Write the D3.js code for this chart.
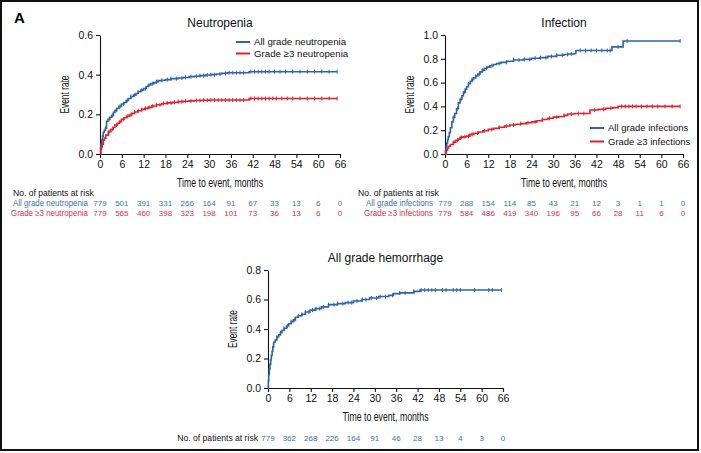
<!DOCTYPE html>
<html><head><meta charset="utf-8">
<script src="https://cdn.jsdelivr.net/npm/d3@7"></script>
<style>
body{margin:0;background:#fff;}
svg text{font-family:"Liberation Sans",Arial,sans-serif;}
</style></head>
<body>
<svg id="c" width="701" height="453"></svg>
<script>
// ---------- DATA ----------
const xTicks = [0,6,12,18,24,30,36,42,48,54,60,66];

// Neutropenia
const neutAllT = [0,0.15,0.3,0.5,0.7,0.9,1.2,1.5,1.8,2.2,2.7,3.2,3.7,4.1,4.6,5.2,5.9,6.6,7.2,7.8,8.5,9.2,9.9,10.5,11.2,12,12.7,13.3,14,14.8,15.5,16,17,18,19.5,21.5,23,24.5,26,27.5,29,30.5,32,33.5,35,41,65.2];
const neutAllV = [0,0.03,0.05,0.07,0.09,0.11,0.12,0.13,0.165,0.175,0.185,0.195,0.21,0.22,0.23,0.24,0.252,0.26,0.27,0.28,0.29,0.297,0.305,0.314,0.322,0.33,0.34,0.348,0.355,0.36,0.365,0.37,0.372,0.375,0.38,0.383,0.386,0.39,0.392,0.395,0.398,0.40,0.403,0.407,0.41,0.415,0.415];
const neutAllCens = [1.5,2.5,3.5,4.5,5.5,6.5,7.5,8.5,9.5,10.5,11.5,12.5,13.5,14.5,15.5,17,18.5,19.5,21,22.5,23.5,25,26.5,27.5,28.5,29.5,30.5,31.5,33,34.5,35.5,36.5,37.5,38.5,39.5,41.5,42.5,43.5,44.5,45.5,46.5,48,49.5,51,53,55,57,59,61,63,65.2];
const neutG3T = [0,0.2,0.4,0.6,0.9,1.2,1.6,2.3,3,3.6,4.1,4.8,5.3,5.9,6.6,7.3,8,8.7,9.5,10.4,11.4,12.3,13.2,14.2,15.5,17,18.5,20,21.5,23,24.5,26,28,30,41,65.2];
const neutG3V = [0,0.02,0.035,0.05,0.07,0.08,0.095,0.113,0.125,0.135,0.146,0.155,0.163,0.175,0.183,0.19,0.197,0.205,0.212,0.218,0.225,0.23,0.235,0.242,0.248,0.255,0.258,0.261,0.264,0.266,0.268,0.27,0.271,0.272,0.28,0.28];
const neutG3Cens = [2.5,3.5,4.5,5.5,6.5,7.5,8.5,9.5,10.5,11.5,12.5,13.5,14.5,15.5,16.5,17.5,18.5,19.5,20.5,21.5,22.5,23.5,25,26.5,27.5,28.5,29.5,30.5,31.5,32.5,33.5,34.5,35.5,36.5,37.5,38.5,39.5,41.5,42.5,43.5,44.5,45.5,46.5,47.5,48.5,50,51.5,53,55,57,59,61,63,65.2];
const neutRiskAll = [779,501,391,331,266,164,91,67,33,13,6,0];
const neutRiskG3 = [779,565,460,398,323,198,101,73,36,13,6,0];

// Infection
const infAllT = [0,0.15,0.3,0.5,0.7,0.9,1.2,1.5,1.9,2.3,2.7,3.2,3.7,4.2,4.7,5.1,5.6,6,6.5,7,7.5,7.9,8.5,9.1,9.7,10.3,11,11.6,12.5,13.4,14.3,15.5,17.1,19,21.7,24,26.3,28.5,30.9,33,34.1,35.8,36.3,46.3,49.4,65.2];
const infAllV = [0,0.03,0.06,0.09,0.12,0.146,0.18,0.22,0.27,0.31,0.34,0.38,0.43,0.46,0.49,0.52,0.545,0.565,0.59,0.61,0.625,0.64,0.655,0.672,0.69,0.705,0.72,0.73,0.742,0.752,0.76,0.77,0.78,0.79,0.795,0.805,0.81,0.82,0.83,0.836,0.84,0.845,0.87,0.90,0.95,0.95];
const infAllCens = [2.5,3.5,4.5,5.5,6.5,7.5,8.5,9.5,10.5,11.5,13,15,17,19,20.5,22,23.5,25,26.5,28,29.5,31,32.5,34,35,37.5,39,40.5,42,43.5,45,45.8,48,50.5,65.2];
const infG3T = [0,0.2,0.4,0.7,1,1.5,2.3,3,3.6,4.2,5,6,6.9,8,9.2,10.5,12,13.5,15,16.5,18,19.5,21,22.5,24,25.5,27,28.5,30,31.5,33,34,36,40.2,42.5,44.5,46.5,48,65.2];
const infG3V = [0,0.02,0.035,0.05,0.065,0.08,0.10,0.115,0.125,0.14,0.145,0.15,0.165,0.175,0.185,0.195,0.207,0.215,0.225,0.235,0.244,0.25,0.255,0.262,0.27,0.28,0.29,0.30,0.31,0.315,0.325,0.336,0.34,0.37,0.375,0.385,0.39,0.40,0.40];
const infG3Cens = [2.5,3.5,4.5,5.5,6.5,7.5,9,11,13,15,17,19,21,23,25,27,29,31,33,35,37,38.5,41.5,44,46,49,50,51,52,53,54.5,56,57.5,59,61,63,65.2];
const infRiskAll = [779,288,154,114,85,43,21,12,3,1,1,0];
const infRiskG3 = [779,584,486,419,340,196,95,66,28,11,6,0];

// Hemorrhage
const hemT = [0,0.1,0.2,0.37,0.55,0.75,0.93,1.15,1.35,1.6,2,2.5,3,3.5,3.9,4.5,5.2,5.8,6.5,7.1,7.7,8.5,9.5,10.5,11.8,13.3,15,17,19.5,21.7,24,26.4,28.5,31.1,33.9,35.2,37,41,42.7,65.6];
const hemV = [0,0.05,0.09,0.13,0.16,0.19,0.22,0.25,0.28,0.31,0.325,0.346,0.36,0.375,0.39,0.405,0.42,0.436,0.45,0.462,0.48,0.49,0.50,0.515,0.528,0.538,0.55,0.565,0.572,0.579,0.59,0.60,0.61,0.62,0.628,0.64,0.645,0.655,0.664,0.664];
const hemCens = [1.5,2.5,3.5,4.5,5.5,6.5,7.5,8.5,9.5,10.5,11.5,12.5,13.5,14.5,15.5,17,18.5,19.5,21,22.5,23.5,25,26.5,27.5,29,30.5,31.5,33,35,37,38.5,41,43,44,45,46,47,49,50,52,53,54,58,62,63,65.6];
const hemRisk = [779,362,268,226,164,91,46,28,13,4,3,0];

// ---------- DRAW ----------
const BLUE = "#2e64ad", RED = "#e3202f";
const BLUE_T = "#3a74b2", RED_T = "#d8324b";
const svg = d3.select("#c");

svg.append("rect").attr("x",1).attr("y",1).attr("width",697).attr("height",449)
  .attr("fill","none").attr("stroke","#111").attr("stroke-width",2);
svg.append("text").attr("x",14).attr("y",23).attr("font-size",15).attr("font-weight","bold").text("A");

function stepVal(T,V,t){ let v=V[0]; for(let i=0;i<T.length;i++){ if(T[i]<=t) v=V[i]; } return v; }

function panel(o){
  const x = d3.scaleLinear().domain([0,66]).range([o.x0,o.x1]);
  const y = d3.scaleLinear().domain([0,o.ymax]).range([o.yb,o.yt]);
  const g = svg.append("g");
  const xa = g.append("g").attr("transform",`translate(0,${o.yb})`)
    .call(d3.axisBottom(x).tickValues(xTicks).tickSize(4).tickPadding(3).tickSizeOuter(0));
  const ya = g.append("g").attr("transform",`translate(${o.x0},0)`)
    .call(d3.axisLeft(y).tickValues(d3.range(0,o.ymax+1e-9,0.2)).tickFormat(d3.format(".1f")).tickSize(4).tickPadding(3).tickSizeOuter(0));
  [xa,ya].forEach(a=>{ a.selectAll("text").attr("font-size",10.5).attr("fill","#111").attr("font-family","Liberation Sans, Arial, sans-serif");
    a.selectAll("line,path").attr("stroke","#111").attr("stroke-width",1.1); });
  g.append("text").attr("x",(o.x0+o.x1)/2).attr("y",o.yt-8).attr("text-anchor","middle").attr("font-size",12).attr("fill","#111").text(o.title);
  g.append("text").attr("transform",`translate(${o.x0-35},${(o.yt+o.yb)/2}) rotate(-90)`).attr("dy","0.35em")
    .attr("text-anchor","middle").attr("font-size",12.5).attr("fill","#111")
    .attr("textLength",38).attr("lengthAdjust","spacingAndGlyphs").text("Event rate");
  g.append("text").attr("x",(o.x0+o.x1)/2).attr("y",o.yb+33).attr("text-anchor","middle").attr("font-size",13).attr("fill","#111")
    .attr("textLength",86).attr("lengthAdjust","spacingAndGlyphs").text("Time to event, months");
  const line = d3.line().x(d=>x(d[0])).y(d=>y(d[1])).curve(d3.curveStepAfter);
  o.series.forEach(s=>{
    const pts = s.T.map((t,i)=>[t,s.V[i]]);
    g.append("path").attr("d",line(pts)).attr("fill","none").attr("stroke",s.color).attr("stroke-width",1.6);
    g.append("g").selectAll("line").data(s.C).join("line")
      .attr("x1",d=>x(d)).attr("x2",d=>x(d))
      .attr("y1",d=>y(stepVal(s.T,s.V,d))-2).attr("y2",d=>y(stepVal(s.T,s.V,d))+2)
      .attr("stroke",s.color).attr("stroke-width",1);
  });
  if(o.legend){
    o.series.forEach((s,i)=>{
      const ly = o.legend.y + i*o.legend.dy;
      g.append("line").attr("x1",o.legend.x).attr("x2",o.legend.x+14).attr("y1",ly).attr("y2",ly).attr("stroke",s.color).attr("stroke-width",2);
      g.append("text").attr("x",o.legend.x+18).attr("y",ly).attr("dy","0.35em").attr("font-size",o.legend.fs).attr("fill","#111").text(s.name);
    });
  }
  // risk table
  g.append("text").attr("x",o.risk.hx).attr("y",o.risk.hy).attr("dy","0.35em").attr("font-size",8.6).attr("fill","#111")
    .attr("text-anchor",o.risk.hanchor||"start").text("No. of patients at risk");
  o.series.forEach((s,i)=>{
    const ry = o.risk.y + i*10;
    if(s.rowLabel) g.append("text").attr("x",o.x0-12).attr("y",ry).attr("dy","0.35em").attr("text-anchor","end").attr("font-size",8.6).attr("fill",s.tcolor)
      .attr("textLength",s.lw).attr("lengthAdjust","spacingAndGlyphs").text(s.rowLabel);
    g.append("g").selectAll("text").data(s.R).join("text")
      .attr("x",(d,j)=>x(xTicks[j])).attr("y",ry).attr("dy","0.35em").attr("text-anchor","middle")
      .attr("font-size",8).attr("fill",s.tcolor).text(d=>d);
  });
}

panel({x0:100,x1:340,yt:35,yb:154,ymax:0.6,title:"Neutropenia",
  legend:{x:236,y:42,dy:11.5,fs:9.7},
  risk:{hx:13,hy:193,y:203},
  series:[
    {name:"All grade neutropenia",rowLabel:"All grade neutropenia",lw:75,T:neutAllT,V:neutAllV,C:neutAllCens,R:neutRiskAll,color:BLUE,tcolor:BLUE_T},
    {name:"Grade \u22653 neutropenia",rowLabel:"Grade \u22653 neutropenia",lw:77,T:neutG3T,V:neutG3V,C:neutG3Cens,R:neutRiskG3,color:RED,tcolor:RED_T}
  ]});

panel({x0:445,x1:683,yt:35,yb:154,ymax:1.0,title:"Infection",
  legend:{x:590,y:128,dy:13.5,fs:9.5},
  risk:{hx:358,hy:193,y:203},
  series:[
    {name:"All grade infections",rowLabel:"All grade infections",lw:67,T:infAllT,V:infAllV,C:infAllCens,R:infRiskAll,color:BLUE,tcolor:BLUE_T},
    {name:"Grade \u22653 infections",rowLabel:"Grade \u22653 infections",lw:69,T:infG3T,V:infG3V,C:infG3Cens,R:infRiskG3,color:RED,tcolor:RED_T}
  ]});

panel({x0:268,x1:503,yt:270,yb:388,ymax:0.8,title:"All grade hemorrhage",
  risk:{hx:258,hy:438,y:438,hanchor:"end"},
  series:[
    {name:"All grade hemorrhage",T:hemT,V:hemV,C:hemCens,R:hemRisk,color:BLUE,tcolor:BLUE_T}
  ]});
</script>
</body></html>
